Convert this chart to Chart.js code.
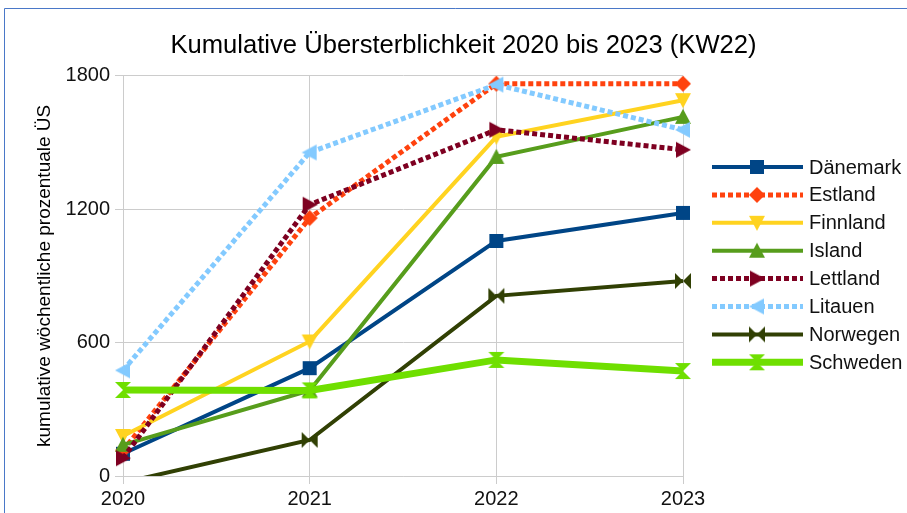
<!DOCTYPE html>
<html>
<head>
<meta charset="utf-8">
<script src="https://cdn.jsdelivr.net/npm/chart.js@4"></script>
<style>
  body { margin: 0; background: #fff; }
  canvas { display: block; }
</style>
</head>
<body>
<canvas id="chart" width="907" height="513"></canvas>
<script>
const years = ["2020", "2021", "2022", "2023"];
const countries = ["Dänemark", "Estland", "Finnland", "Island", "Lettland", "Litauen", "Norwegen", "Schweden"];

const daenemark = [100, 485, 1057, 1183];
const estland = [115, 1160, 1764, 1764];
const finnland = [180, 605, 1525, 1690];
const island = [140, 385, 1435, 1615];
const lettland = [80, 1220, 1557, 1467];
const litauen = [475, 1455, 1760, 1557];
const norwegen = [-30, 162, 810, 877];
const schweden = [387, 385, 522, 472];

const yTicks = [0, 600, 1200, 1800];

const seriesValues = [daenemark, estland, finnland, island, lettland, litauen, norwegen, schweden];
const colors = ["#004586", "#ff420e", "#ffd320", "#579d1c", "#7e0021", "#83caff", "#314004", "#6fdf00"];
const markers = ["square", "diamond", "triDown", "triUp", "triRight", "triLeft", "bowtie", "hourglass"];
const widths = [4, 5, 4, 4, 5, 5, 4, 7];
const dashed = [false, true, false, false, true, true, false, false];

const FONT = "'Liberation Sans', Arial, sans-serif";

// marker images used both on the lines and in the legend
function makeMarker(shape, color) {
  const c = document.createElement("canvas");
  c.width = 18;
  c.height = 18;
  const g = c.getContext("2d");
  g.translate(9, 9);
  g.fillStyle = color;
  g.beginPath();
  const r = 8;
  if (shape === "square") {
    g.rect(-7, -7, 14, 14);
  } else if (shape === "diamond") {
    g.moveTo(0, -r); g.lineTo(r, 0); g.lineTo(0, r); g.lineTo(-r, 0);
  } else if (shape === "triDown") {
    g.moveTo(-r, -7); g.lineTo(r, -7); g.lineTo(0, r);
  } else if (shape === "triUp") {
    g.moveTo(0, -r); g.lineTo(r, 7); g.lineTo(-r, 7);
  } else if (shape === "triRight") {
    g.moveTo(-7, -r); g.lineTo(r, 0); g.lineTo(-7, r);
  } else if (shape === "triLeft") {
    g.moveTo(7, -r); g.lineTo(-r, 0); g.lineTo(7, r);
  } else if (shape === "bowtie") {
    g.moveTo(-r, -r); g.lineTo(0, 0); g.lineTo(-r, r);
    g.moveTo(r, -r); g.lineTo(0, 0); g.lineTo(r, r);
  } else if (shape === "hourglass") {
    g.moveTo(-r, -r); g.lineTo(r, -r); g.lineTo(0, 0);
    g.moveTo(-r, r); g.lineTo(r, r); g.lineTo(0, 0);
  }
  g.closePath();
  g.fill();
  return c;
}

const markerImgs = markers.map((m, i) => makeMarker(m, colors[i]));

const datasets = countries.map((name, i) => ({
  label: name,
  data: seriesValues[i],
  borderColor: colors[i],
  backgroundColor: colors[i],
  borderWidth: widths[i],
  borderDash: dashed[i] ? [5, 3] : [],
  pointStyle: markerImgs[i],
  // no marker for values below the axis
  pointRadius: c => (c.raw < 0 ? 0 : 9),
  tension: 0,
  order: countries.length - i,
}));

// cut every line at the zero line (Norwegen dips below it in 2020)
const floorClip = {
  id: "floorClip",
  beforeDatasetDraw(chart) {
    const a = chart.chartArea;
    const ctx = chart.ctx;
    ctx.save();
    ctx.beginPath();
    ctx.rect(a.left - 15, a.top - 15, a.right - a.left + 30, a.bottom - a.top + 15);
    ctx.clip();
  },
  afterDatasetDraw(chart) {
    chart.ctx.restore();
  },
};

const frame = {
  id: "frame",
  afterDraw(chart) {
    const ctx = chart.ctx;
    ctx.save();
    ctx.strokeStyle = "#4a78c8";
    ctx.lineWidth = 1;
    ctx.beginPath();
    ctx.moveTo(4.5, 513);
    ctx.lineTo(4.5, 8.5);
    ctx.lineTo(907, 8.5);
    ctx.stroke();
    ctx.restore();
  },
};

const sideLegend = {
  id: "sideLegend",
  afterDraw(chart) {
    const ctx = chart.ctx;
    ctx.save();
    chart.data.datasets.forEach((ds, i) => {
      const y = 167 + i * 27.9;
      ctx.strokeStyle = ds.borderColor;
      ctx.lineWidth = ds.borderWidth;
      ctx.setLineDash(ds.borderDash);
      ctx.beginPath();
      ctx.moveTo(712, y);
      ctx.lineTo(803, y);
      ctx.stroke();
      ctx.setLineDash([]);
      ctx.drawImage(ds.pointStyle, 757 - 9, y - 9);
      ctx.fillStyle = "#111";
      ctx.font = "20px " + FONT;
      ctx.textBaseline = "middle";
      ctx.fillText(ds.label, 809, y + 1);
    });
    ctx.restore();
  },
};

new Chart(document.getElementById("chart"), {
  type: "line",
  data: { labels: years, datasets: datasets },
  plugins: [floorClip, frame, sideLegend],
  options: {
    responsive: false,
    animation: false,
    events: [],
    layout: { padding: { left: 20, right: 0, top: 0, bottom: 0 } },
    plugins: {
      legend: { display: false },
      tooltip: { enabled: false },
      title: {
        display: true,
        text: "Kumulative Übersterblichkeit 2020 bis 2023 (KW22)",
        color: "#000",
        font: { family: FONT, size: 25.6, weight: "normal" },
        padding: { top: 31, bottom: 14 },
      },
    },
    scales: {
      x: {
        offset: false,
        afterFit(scale) { scale.height = 37; },
        grid: { color: "#cccccc", tickLength: 8 },
        border: { color: "#cccccc" },
        ticks: { color: "#111", font: { family: FONT, size: 20 }, padding: 3, maxRotation: 0 },
      },
      y: {
        min: 0,
        max: 1800,
        afterFit(scale) { scale.width = 103; },
        afterBuildTicks(scale) { scale.ticks = yTicks.map(v => ({ value: v })); },
        grid: { color: "#cccccc", tickLength: 8 },
        border: { color: "#cccccc" },
        ticks: { color: "#111", font: { family: FONT, size: 20 }, padding: 5, callback: v => String(v) },
        title: {
          display: true,
          text: "kumulative wöchentliche prozentuale ÜS",
          color: "#000",
          font: { family: FONT, size: 19 },
          padding: { top: 13, bottom: 0 },
        },
      },
      // empty right-hand axis that only reserves room for the legend
      space: {
        type: "linear",
        position: "right",
        min: 0,
        max: 1,
        afterFit(scale) { scale.width = 224; },
        grid: { display: false },
        border: { display: false },
        ticks: { display: false },
      },
    },
  },
});
</script>
</body>
</html>
